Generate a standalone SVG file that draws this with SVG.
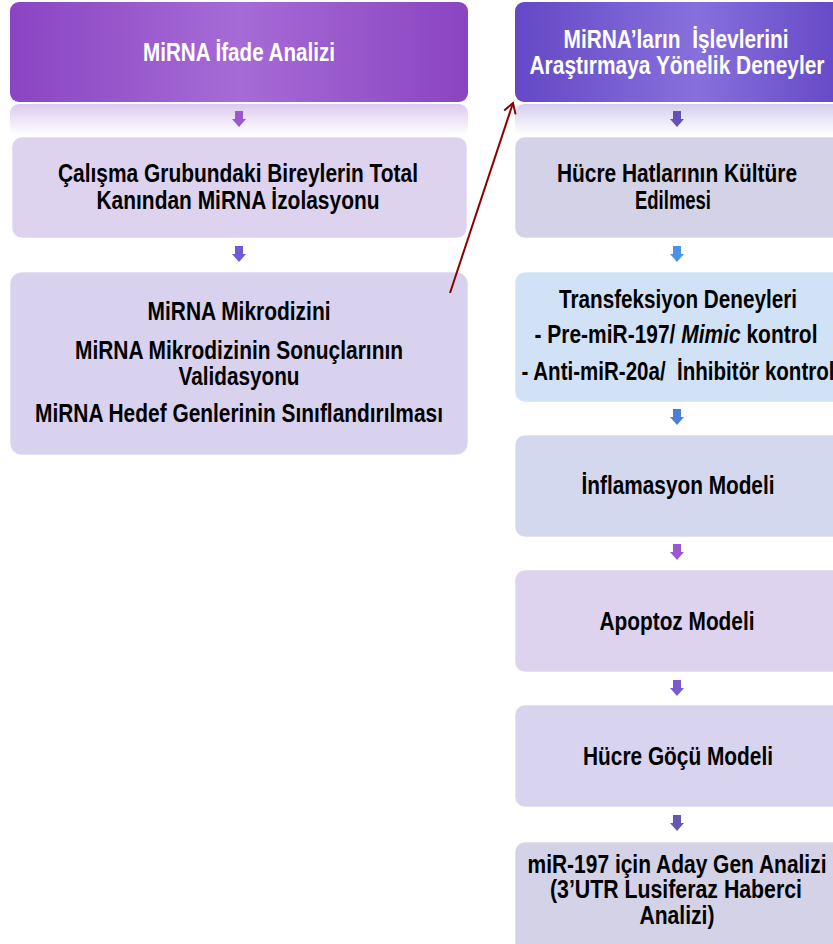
<svg xmlns="http://www.w3.org/2000/svg" width="833" height="944" viewBox="0 0 833 944">
<style>
.t{font-family:"Liberation Sans",Arial,sans-serif;font-weight:bold;font-size:25px;text-anchor:middle;fill:#000}
.w{fill:#fff}
.box{stroke:#ffffff;stroke-opacity:0.6;stroke-width:1}
</style>
<defs>
<linearGradient id="gL" x1="0" y1="0" x2="1" y2="0">
<stop offset="0" stop-color="#8a45c2"/><stop offset="0.5" stop-color="#a66bd6"/><stop offset="1" stop-color="#8a44c0"/>
</linearGradient>
<linearGradient id="gR" x1="0" y1="0" x2="1" y2="0">
<stop offset="0" stop-color="#6448c6"/><stop offset="0.55" stop-color="#8770dc"/><stop offset="1" stop-color="#6448c6"/>
</linearGradient>
<linearGradient id="refL" x1="0" y1="0" x2="0" y2="1">
<stop offset="0" stop-color="#dcc9ef"/><stop offset="0.5" stop-color="#efe6f7"/><stop offset="1" stop-color="#ffffff"/>
</linearGradient>
<linearGradient id="refR" x1="0" y1="0" x2="0" y2="1">
<stop offset="0" stop-color="#d4ccef"/><stop offset="0.5" stop-color="#ebe8f7"/><stop offset="1" stop-color="#ffffff"/>
</linearGradient>
<path id="ar" d="M-4,0 H4 V8 H7 L0,16 L-7,8 H-4 Z"/>
<marker id="open" markerWidth="14" markerHeight="14" refX="11" refY="7" orient="auto" markerUnits="userSpaceOnUse">
<path d="M1,1 L11,7 L1,13" fill="none" stroke="#8b0000" stroke-width="2"/>
</marker>
</defs>
<rect width="833" height="944" fill="#ffffff"/>

<g id="left-header">
<rect x="10" y="2" width="458" height="100" rx="9" fill="url(#gL)"/>
<rect x="10" y="104" width="458" height="32" rx="9" fill="url(#refL)"/>
<text class="t w" x="239" y="61" textLength="192" lengthAdjust="spacingAndGlyphs">MiRNA İfade Analizi</text>
</g>

<g id="left-izolasyon">
<rect class="box" x="12" y="137" width="455" height="101" rx="10" fill="#ddd3ef"/>
<text class="t" x="238" y="182" textLength="360" lengthAdjust="spacingAndGlyphs">Çalışma Grubundaki Bireylerin Total</text>
<text class="t" x="238" y="209" textLength="283" lengthAdjust="spacingAndGlyphs">Kanından MiRNA İzolasyonu</text>
</g>

<g id="left-mikrodizin">
<rect class="box" x="10" y="272" width="458" height="183" rx="12" fill="#d8d2ef"/>
<text class="t" x="239" y="320" textLength="183" lengthAdjust="spacingAndGlyphs">MiRNA Mikrodizini</text>
<text class="t" x="239" y="359" textLength="328" lengthAdjust="spacingAndGlyphs">MiRNA Mikrodizinin Sonuçlarının</text>
<text class="t" x="239" y="385" textLength="121" lengthAdjust="spacingAndGlyphs">Validasyonu</text>
<text class="t" x="239" y="422" textLength="408" lengthAdjust="spacingAndGlyphs">MiRNA Hedef Genlerinin Sınıflandırılması</text>
</g>

<g id="right-header">
<rect x="515" y="2" width="330" height="100" rx="9" fill="url(#gR)"/>
<rect x="515" y="104" width="330" height="32" rx="9" fill="url(#refR)"/>
<text class="t w" x="676" y="48" textLength="225" lengthAdjust="spacingAndGlyphs" xml:space="preserve">MiRNA’ların  İşlevlerini</text>
<text class="t w" x="677" y="74" textLength="295" lengthAdjust="spacingAndGlyphs">Araştırmaya Yönelik Deneyler</text>
</g>

<g id="right-kultur">
<rect class="box" x="515" y="137" width="330" height="101" rx="10" fill="#d4d2e6"/>
<text class="t" x="677" y="182" textLength="240" lengthAdjust="spacingAndGlyphs">Hücre Hatlarının Kültüre</text>
<text class="t" x="673" y="209" textLength="76" lengthAdjust="spacingAndGlyphs">Edilmesi</text>
</g>

<g id="right-transfeksiyon">
<rect class="box" x="515" y="272" width="330" height="130" rx="10" fill="#d2e2f6"/>
<text class="t" x="678" y="308" textLength="238" lengthAdjust="spacingAndGlyphs">Transfeksiyon Deneyleri</text>
<text class="t" x="676" y="343" textLength="283" lengthAdjust="spacingAndGlyphs">- Pre-miR-197/ <tspan font-style="italic">Mimic</tspan> kontrol</text>
<text class="t" x="678" y="380" textLength="313" lengthAdjust="spacingAndGlyphs" xml:space="preserve">- Anti-miR-20a/  İnhibitör kontrol</text>
</g>

<g id="right-inflamasyon">
<rect class="box" x="515" y="435" width="330" height="102" rx="10" fill="#d3d8ee"/>
<text class="t" x="678" y="494" textLength="193" lengthAdjust="spacingAndGlyphs">İnflamasyon Modeli</text>
</g>

<g id="right-apoptoz">
<rect class="box" x="515" y="570" width="330" height="102" rx="10" fill="#ddd3ee"/>
<text class="t" x="677" y="630" textLength="155" lengthAdjust="spacingAndGlyphs">Apoptoz Modeli</text>
</g>

<g id="right-gocu">
<rect class="box" x="515" y="705" width="330" height="102" rx="10" fill="#d8d3ef"/>
<text class="t" x="678" y="765" textLength="190" lengthAdjust="spacingAndGlyphs">Hücre Göçü Modeli</text>
</g>

<g id="right-aday-gen">
<rect class="box" x="515" y="842" width="330" height="120" rx="10" fill="#d4d2e6"/>
<text class="t" x="677" y="873" textLength="299" lengthAdjust="spacingAndGlyphs">miR-197 için Aday Gen Analizi</text>
<text class="t" x="676" y="898" textLength="252" lengthAdjust="spacingAndGlyphs">(3’UTR Lusiferaz Haberci</text>
<text class="t" x="677" y="924" textLength="75" lengthAdjust="spacingAndGlyphs">Analizi)</text>
</g>

<g id="connectors">
<use href="#ar" x="239" y="111" fill="#9a58d0"/>
<use href="#ar" x="239" y="246" fill="#6e5ad6"/>
<use href="#ar" x="677" y="111" fill="#6650b8"/>
<use href="#ar" x="677" y="246" fill="#4a94e4"/>
<use href="#ar" x="677" y="409" fill="#4a7ed8"/>
<use href="#ar" x="677" y="544" fill="#9c58d4"/>
<use href="#ar" x="677" y="680" fill="#7a5ad0"/>
<use href="#ar" x="677" y="815" fill="#6656b0"/>
<line x1="450" y1="293" x2="513" y2="103" stroke="#8b0000" stroke-width="2" marker-end="url(#open)"/>
</g>
</svg>
